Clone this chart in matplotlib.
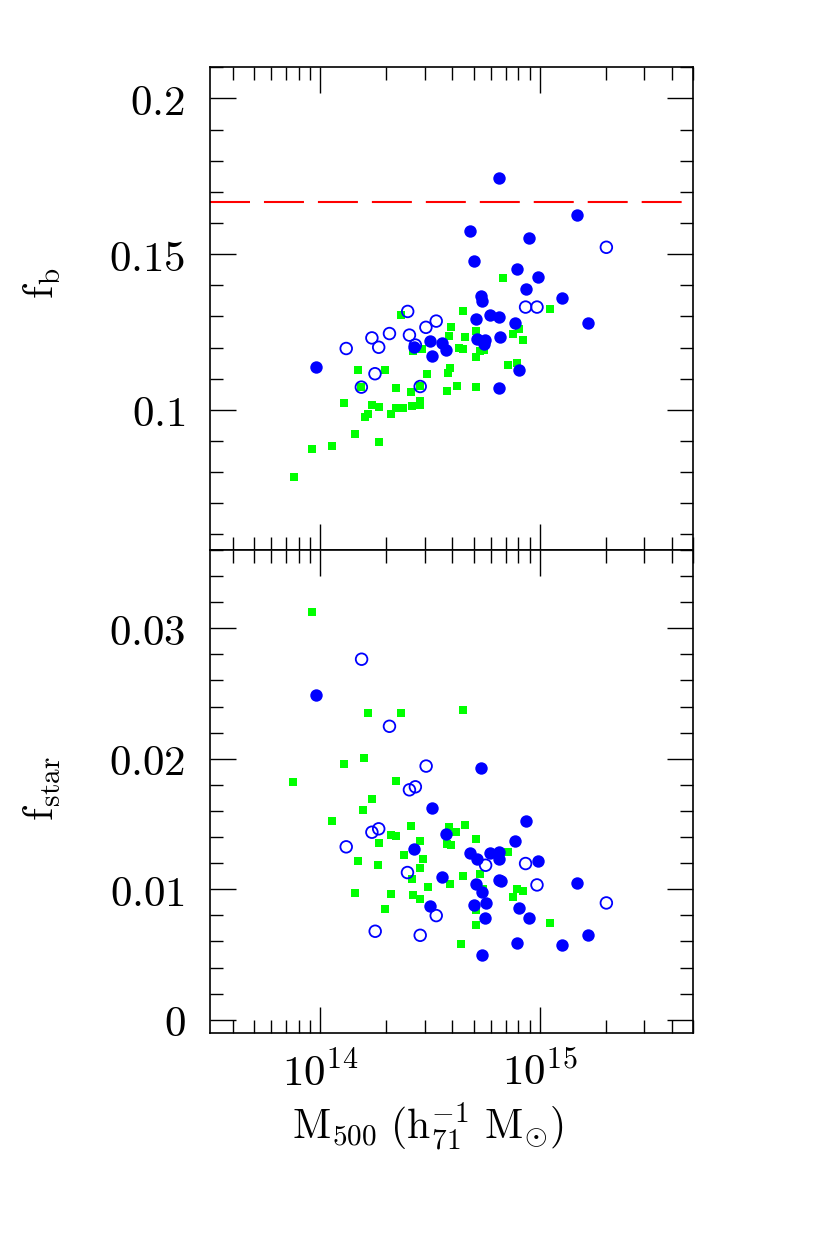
import numpy as np
import matplotlib
matplotlib.use('Agg')
import matplotlib.pyplot as plt
from matplotlib.ticker import FixedLocator, FixedFormatter, MultipleLocator, LogLocator, NullFormatter

plt.rcParams['mathtext.fontset'] = 'cm'
plt.rcParams['font.family'] = ['DejaVu Serif']

# ---------------- data: log10(M500 / h71^-1 Msun) ----------------
# Top panel: baryon fraction f_b
fb_filled_logm = [14.813, 15.169, 14.683, 14.950, 14.701, 14.895, 14.991, 14.936, 15.104,
                  14.733, 14.739, 14.775, 14.816, 14.712, 14.890, 15.220, 14.820, 14.717,
                  14.753, 14.500, 14.556, 14.748, 14.428, 14.572, 14.511, 13.982, 14.907, 14.816]
fb_filled = [0.1746, 0.1626, 0.1573, 0.1553, 0.1477, 0.1453, 0.1425, 0.1388, 0.1359,
             0.1364, 0.1351, 0.1305, 0.1297, 0.1291, 0.1280, 0.1278, 0.1235, 0.1226,
             0.1223, 0.1220, 0.1214, 0.1211, 0.1201, 0.1193, 0.1174, 0.1139, 0.1129, 0.1071]

fb_open_logm = [15.304, 14.936, 14.988, 14.399, 14.529, 14.482, 14.316, 14.407, 14.236,
                14.434, 14.267, 14.119, 14.250, 14.188, 14.456]
fb_open = [0.1522, 0.1330, 0.1330, 0.1316, 0.1285, 0.1265, 0.1245, 0.1240, 0.1231,
           0.1208, 0.1201, 0.1197, 0.1116, 0.1073, 0.1075]

fb_sq_logm = [14.831, 15.046, 14.652, 14.369, 14.598, 14.710, 14.906, 14.878, 14.587, 14.660,
              14.924, 14.425, 14.465, 14.631, 14.650, 14.745, 14.729, 14.708, 14.171, 14.294,
              14.592, 14.582, 14.486, 14.858, 14.898, 14.188, 14.344, 14.453, 14.624, 14.710,
              14.576, 14.415, 14.108, 14.238, 14.267, 14.453, 14.456, 14.418, 14.378, 14.347,
              14.322, 14.218, 14.203, 14.158, 14.270, 14.055, 13.965, 13.879]
fb_sq = [0.1424, 0.1325, 0.1319, 0.1305, 0.1267, 0.1254, 0.1260, 0.1245, 0.1238, 0.1233,
         0.1224, 0.1190, 0.1194, 0.1199, 0.1195, 0.1193, 0.1188, 0.1171, 0.1128, 0.1129,
         0.1133, 0.1117, 0.1116, 0.1143, 0.1152, 0.1073, 0.1071, 0.1075, 0.1076, 0.1072,
         0.1060, 0.1056, 0.1021, 0.1017, 0.1009, 0.1030, 0.1016, 0.1011, 0.1006, 0.1005,
         0.0988, 0.0987, 0.0978, 0.0924, 0.0897, 0.0885, 0.0874, 0.0783]

fb_cosmic = 0.1667

# Bottom panel: stellar fraction f_star
fs_filled_logm = [13.982, 14.735, 14.511, 14.936, 14.573, 14.890, 14.428, 14.683, 14.775, 14.816,
                  14.717, 14.816, 14.991, 14.556, 14.816, 14.822, 15.169, 14.712, 14.739, 14.754,
                  14.501, 14.701, 14.907, 14.752, 14.950, 15.220, 14.895, 15.104, 14.737]
fs_filled = [0.02489, 0.01931, 0.01624, 0.01522, 0.01420, 0.01371, 0.01312, 0.01279, 0.01279, 0.01284,
             0.01230, 0.01228, 0.01215, 0.01092, 0.01071, 0.01061, 0.01051, 0.01041, 0.00982, 0.00895,
             0.00870, 0.00877, 0.00860, 0.00783, 0.00781, 0.00652, 0.00585, 0.00573, 0.00496]

fs_open_logm = [14.189, 14.316, 14.483, 14.407, 14.434, 14.267, 14.236, 14.119, 14.936, 14.754,
                14.398, 14.988, 15.304, 14.529, 14.251, 14.456]
fs_open = [0.02763, 0.02249, 0.01944, 0.01762, 0.01785, 0.01463, 0.01437, 0.01325, 0.01197, 0.01184,
           0.01128, 0.01033, 0.00895, 0.00798, 0.00678, 0.00647]

fs_sq_logm = [13.963, 14.218, 14.369, 14.652, 14.201, 14.108, 13.878, 14.346, 14.238, 14.195,
              14.055, 14.415, 14.587, 14.660, 14.620, 14.321, 14.346, 14.710, 14.457, 14.270,
              14.576, 14.598, 14.858, 14.383, 14.469, 14.171, 14.266, 14.453, 14.417, 14.729,
              14.650, 14.592, 14.491, 14.744, 14.898, 14.924, 14.158, 14.322, 14.422, 14.456,
              14.878, 14.708, 14.294, 15.046, 14.708, 14.640]
fs_sq = [0.03126, 0.02353, 0.02353, 0.02374, 0.02005, 0.01959, 0.01821, 0.01831, 0.01693, 0.01609,
         0.01522, 0.01481, 0.01476, 0.01491, 0.01440, 0.01412, 0.01410, 0.01386, 0.01369, 0.01358,
         0.01348, 0.01340, 0.01284, 0.01263, 0.01230, 0.01220, 0.01182, 0.01161, 0.01082, 0.01115,
         0.01102, 0.01041, 0.01015, 0.01005, 0.01002, 0.00985, 0.00972, 0.00964, 0.00954, 0.00926,
         0.00942, 0.00839, 0.00846, 0.00739, 0.00726, 0.00583]

top_ticks = [0.1, 0.15, 0.2]
top_labels = ['0.1', '0.15', '0.2']
bot_ticks = [0.0, 0.01, 0.02, 0.03]
bot_labels = ['0', '0.01', '0.02', '0.03']
x_ticks = [1e14, 1e15]
x_labels = [r'$10^{14}$', r'$10^{15}$']

BLUE = '#0000ff'
GREEN = '#00ff00'
TICK_FS = 31
LABEL_FS = 30

fig = plt.figure(figsize=(8.3, 12.41), dpi=100)
ax1 = fig.add_axes([0.2534, 0.5568, 0.5819, 0.3890])
ax2 = fig.add_axes([0.2534, 0.1678, 0.5819, 0.3890])


def draw(ax, sq_x, sq_y, op_x, op_y, fi_x, fi_y):
    ax.scatter(10 ** np.array(sq_x), sq_y, s=30, marker='s', color=GREEN, linewidths=0, zorder=2)
    ax.scatter(10 ** np.array(op_x), op_y, s=70, marker='o', facecolors='none',
               edgecolors=BLUE, linewidths=1.3, zorder=3)
    ax.scatter(10 ** np.array(fi_x), fi_y, s=80, marker='o', color=BLUE, linewidths=0, zorder=4)


draw(ax1, fb_sq_logm, fb_sq, fb_open_logm, fb_open, fb_filled_logm, fb_filled)
draw(ax2, fs_sq_logm, fs_sq, fs_open_logm, fs_open, fs_filled_logm, fs_filled)

ax1.axhline(fb_cosmic, color='red', lw=1.5, dashes=(19.2, 6.7), zorder=1)

for ax in (ax1, ax2):
    ax.set_xscale('log')
    ax.set_xlim(10 ** 13.5, 10 ** 15.7)
    ax.xaxis.set_major_locator(FixedLocator(x_ticks))
    ax.xaxis.set_minor_locator(LogLocator(base=10, subs=np.arange(2, 10)))
    ax.xaxis.set_minor_formatter(NullFormatter())
    ax.tick_params(which='both', direction='in', top=True, right=True, width=1.0, color='black')
    ax.tick_params(which='major', length=19)
    ax.tick_params(which='minor', length=9.5)
    ax.tick_params(axis='y', which='major', pad=18, labelsize=TICK_FS)
    ax.tick_params(axis='x', which='major', pad=14, labelsize=TICK_FS)
    for sp in ax.spines.values():
        sp.set_linewidth(1.2)

ax1.set_ylim(0.055, 0.21)
ax1.yaxis.set_major_locator(FixedLocator(top_ticks))
ax1.yaxis.set_major_formatter(FixedFormatter(['$' + t + '$' for t in top_labels]))
ax1.yaxis.set_minor_locator(MultipleLocator(0.01))
ax1.set_xticklabels([])

ax2.set_ylim(-0.001, 0.036)
ax2.yaxis.set_major_locator(FixedLocator(bot_ticks))
ax2.yaxis.set_major_formatter(FixedFormatter(['$' + t + '$' for t in bot_labels]))
ax2.yaxis.set_minor_locator(MultipleLocator(0.002))
ax2.xaxis.set_major_formatter(FixedFormatter(x_labels))

fig.text(42 / 830, 1 - 283 / 1241, r'$\mathrm{f_b}$', rotation=90, ha='center', va='center',
         fontsize=LABEL_FS)
fig.text(42 / 830, 1 - 789 / 1241, r'$\mathrm{f_{star}}$', rotation=90, ha='center', va='center',
         fontsize=LABEL_FS)
fig.text(428 / 830, 1 - 1127 / 1241, r'$\mathrm{M_{500}\ (h_{71}^{-1}\ M_{\odot})}$',
         ha='center', va='center', fontsize=LABEL_FS)

fig.savefig('out.png', dpi=100)
